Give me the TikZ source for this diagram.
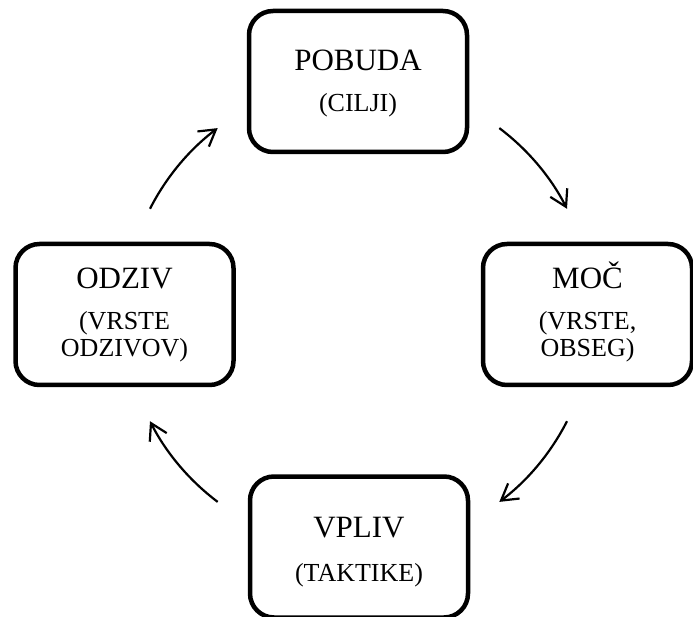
\documentclass[tikz,border=0pt]{standalone}
\usepackage{fontspec}
\setmainfont{Liberation Serif}
\usetikzlibrary{arrows.meta}
\tikzset{
  stagebox/.style={draw=black, line width=4.5pt, rounded corners=24pt,
    minimum width=218pt, minimum height=141pt, align=center, inner sep=0pt,
    font=\fontsize{26}{27.5}\selectfont},
  cyclearrow/.style={line width=2.2pt,
    -{Straight Barb[length=16pt,width=19pt,line width=2.2pt]}}
}
% #1 main word, #2 strut height of the main line, #3 extra gap below it
\newcommand{\maintxt}[3]{{\fontsize{31}{31}\selectfont\smash{#1}\rule{0pt}{#2}}\\[#3]}
\begin{document}
\begin{tikzpicture}[x=1pt,y=1pt]
\useasboundingbox (0,0) rectangle (693,616);
\node[stagebox] (pobuda) at (358,534.5) {\maintxt{POBUDA}{25pt}{13.5pt}(CILJI)};
\node[stagebox, minimum width=209pt] (moc) at (587.5,301.5) {\maintxt{MOČ}{21.4pt}{13.5pt}(VRSTE,\\OBSEG)};
\node[stagebox] (vpliv) at (359,69) {\maintxt{VPLIV}{31pt}{16.5pt}(TAKTIKE)};
\node[stagebox] (odziv) at (124.5,301.5) {\maintxt{ODZIV}{21.4pt}{13.5pt}(VRSTE\\ODZIVOV)};
\coordinate (cc) at (358.5,301);
\coordinate (a1s) at ([shift={(153:234pt)}]cc);
\coordinate (a2s) at ([shift={(53:234pt)}]cc);
\coordinate (a3s) at ([shift={(-27:234pt)}]cc);
\coordinate (a4s) at ([shift={(-127:234pt)}]cc);
\draw[cyclearrow] (a1s) arc[start angle=153, end angle=127, radius=234pt];
\draw[cyclearrow] (a2s) arc[start angle=53, end angle=27, radius=234pt];
\draw[cyclearrow] (a3s) arc[start angle=-27, end angle=-53, radius=234pt];
\draw[cyclearrow] (a4s) arc[start angle=-127, end angle=-153, radius=234pt];
\end{tikzpicture}
\end{document}
